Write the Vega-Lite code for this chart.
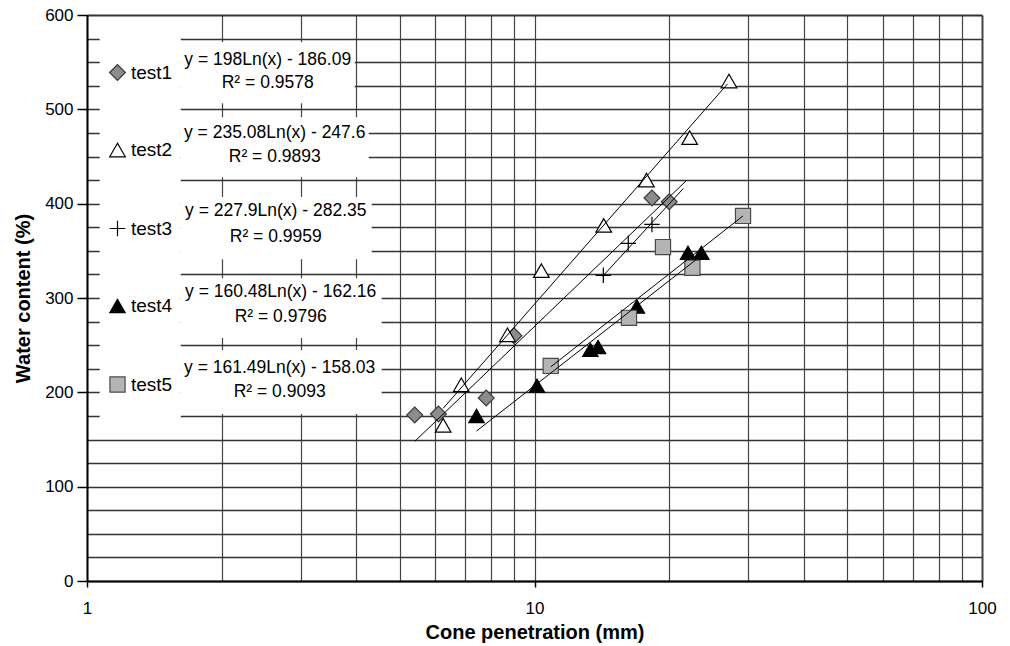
{
  "$schema": "https://vega.github.io/schema/vega-lite/v6.json",
  "width": 895,
  "height": 566,
  "autosize": {"type": "none"},
  "padding": {"left": 87, "top": 15, "right": 28, "bottom": 65},
  "background": "white",
  "config": {
    "view": {"stroke": null},
    "font": "Liberation Sans"
  },
  "datasets": {
    "boxes": [
      {"x": 1.0675, "x2": 1.62, "y": 165, "y2": 590},
      {"x": 1.62, "x2": 3.965, "y": 506.5, "y2": 571},
      {"x": 1.62, "x2": 4.262, "y": 428, "y2": 491.6},
      {"x": 1.62, "x2": 4.327, "y": 341, "y2": 407},
      {"x": 1.62, "x2": 4.555, "y": 257.5, "y2": 321},
      {"x": 1.62, "x2": 4.555, "y": 177, "y2": 245}
    ],
    "limit": [{"x": 20}],
    "points": [
      {"test": "test1", "x": 5.4, "y": 176},
      {"test": "test1", "x": 6.1, "y": 177},
      {"test": "test1", "x": 7.8, "y": 194},
      {"test": "test1", "x": 9.0, "y": 260},
      {"test": "test1", "x": 18.3, "y": 406},
      {"test": "test1", "x": 20.0, "y": 402},
      {"test": "test2", "x": 6.25, "y": 165},
      {"test": "test2", "x": 6.86, "y": 208},
      {"test": "test2", "x": 8.7, "y": 261},
      {"test": "test2", "x": 10.36, "y": 329},
      {"test": "test2", "x": 14.28, "y": 377},
      {"test": "test2", "x": 17.79, "y": 425},
      {"test": "test2", "x": 22.22, "y": 470},
      {"test": "test2", "x": 27.2, "y": 530},
      {"test": "test3", "x": 14.25, "y": 324},
      {"test": "test3", "x": 16.2, "y": 358},
      {"test": "test3", "x": 18.3, "y": 378},
      {"test": "test4", "x": 7.42, "y": 175},
      {"test": "test4", "x": 10.13, "y": 207},
      {"test": "test4", "x": 13.33, "y": 245},
      {"test": "test4", "x": 13.87, "y": 248},
      {"test": "test4", "x": 16.94, "y": 291},
      {"test": "test4", "x": 22.03, "y": 348},
      {"test": "test4", "x": 23.6, "y": 348},
      {"test": "test5", "x": 10.87, "y": 228},
      {"test": "test5", "x": 16.26, "y": 279},
      {"test": "test5", "x": 19.37, "y": 354},
      {"test": "test5", "x": 22.54, "y": 332},
      {"test": "test5", "x": 29.24, "y": 387}
    ],
    "trends": [
      {"test": "test1", "x": 5.4, "y": 148},
      {"test": "test1", "x": 21.8, "y": 424},
      {"test": "test2", "x": 6.25, "y": 183},
      {"test": "test2", "x": 27.0, "y": 527},
      {"test": "test3", "x": 14.2, "y": 323},
      {"test": "test3", "x": 21.5, "y": 416},
      {"test": "test4", "x": 7.42, "y": 159},
      {"test": "test4", "x": 23.6, "y": 345},
      {"test": "test5", "x": 10.87, "y": 227},
      {"test": "test5", "x": 29.24, "y": 387}
    ],
    "labels": [
      {"label": "y = 198Ln(x) - 186.09", "x": 2.534, "y": 552.6},
      {"label": "R² = 0.9578", "x": 2.534, "y": 527.7},
      {"label": "y = 235.08Ln(x) - 247.6", "x": 2.627, "y": 475.2},
      {"label": "R² = 0.9893", "x": 2.627, "y": 449.3},
      {"label": "y = 227.9Ln(x) - 282.35", "x": 2.641, "y": 392.0},
      {"label": "R² = 0.9959", "x": 2.641, "y": 365.0},
      {"label": "y = 160.48Ln(x) - 162.16", "x": 2.709, "y": 306.7},
      {"label": "R² = 0.9796", "x": 2.709, "y": 280.3},
      {"label": "y = 161.49Ln(x) - 158.03", "x": 2.695, "y": 225.7},
      {"label": "R² = 0.9093", "x": 2.695, "y": 200.8}
    ]
  },
  "encoding": {
    "x": {
      "field": "x",
      "type": "quantitative",
      "scale": {"type": "log", "domain": [1, 100], "nice": false},
      "axis": {
        "title": "Cone penetration (mm)",
        "titleFont": "Liberation Sans",
        "titleFontSize": 20,
        "titleFontWeight": "bold",
        "titleColor": "black",
        "titlePadding": 6,
        "values": [1, 2, 3, 4, 5, 6, 7, 8, 9, 10, 20, 30, 40, 50, 60, 70, 80, 90, 100],
        "labelExpr": "indexof([1, 10, 100], datum.value) >= 0 ? datum.label : ''",
        "labelOverlap": false,
        "labelBound": false,
        "labelFlush": false,
        "labelFont": "Liberation Sans",
        "labelFontSize": 17,
        "labelColor": "black",
        "labelPadding": 13,
        "tickSize": 6,
        "tickColor": "black",
        "tickWidth": 1.5,
        "tickOpacity": {"condition": {"test": "indexof([1, 10, 100], datum.value) >= 0", "value": 1}, "value": 0},
        "grid": true,
        "gridColor": "#444444",
        "gridOpacity": 1,
        "gridWidth": {"condition": {"test": "datum.value == 100", "value": 2}, "value": 1.2},
        "domainColor": "black",
        "domainWidth": 2
      }
    },
    "y": {
      "field": "y",
      "type": "quantitative",
      "scale": {"domain": [0, 600], "nice": false, "zero": false},
      "axis": {
        "title": "Water content (%)",
        "titleFont": "Liberation Sans",
        "titleFontSize": 20,
        "titleFontWeight": "bold",
        "titleColor": "black",
        "titlePadding": 11,
        "values": [0, 25, 50, 75, 100, 125, 150, 175, 200, 225, 250, 275, 300, 325, 350, 375, 400, 425, 450, 475, 500, 525, 550, 575, 600],
        "labelExpr": "datum.value % 100 == 0 ? datum.label : ''",
        "labelOverlap": false,
        "labelBound": false,
        "labelFlush": false,
        "labelFont": "Liberation Sans",
        "labelFontSize": 17,
        "labelColor": "black",
        "labelPadding": 4,
        "tickSize": 10,
        "tickColor": "black",
        "tickWidth": 1.5,
        "tickOpacity": {"condition": {"test": "datum.value % 100 == 0", "value": 1}, "value": 0},
        "grid": true,
        "gridColor": "#333333",
        "gridOpacity": 1,
        "gridWidth": {"condition": {"test": "datum.value == 600", "value": 2}, "value": 1.3},
        "domainColor": "black",
        "domainWidth": 2
      }
    }
  },
  "layer": [
    {
      "data": {"name": "boxes"},
      "mark": {"type": "rect", "fill": "white", "strokeWidth": 0},
      "encoding": {
        "x2": {"field": "x2"},
        "y2": {"field": "y2"}
      }
    },
    {
      "data": {"name": "limit"},
      "mark": {"type": "rule", "color": "black", "strokeWidth": 3},
      "encoding": {
        "y": {"datum": 0},
        "y2": {"datum": 600}
      }
    },
    {
      "data": {"name": "points"},
      "mark": {"type": "point", "filled": true, "opacity": 1, "strokeWidth": 1.2},
      "encoding": {
        "shape": {
          "field": "test",
          "type": "nominal",
          "scale": {"domain": ["test1", "test2", "test3", "test4", "test5"], "range": ["diamond", "triangle-up", "M-1,0L1,0M0,-1L0,1", "triangle-up", "square"]},
          "legend": {
            "title": null,
            "orient": "none",
            "legendX": 21,
            "legendY": 48,
            "padding": 0,
            "labelFont": "Liberation Sans",
            "labelFontSize": 19,
            "labelColor": "black",
            "labelOffset": 4,
            "rowPadding": 57.5,
            "symbolStrokeWidth": 1.2,
            "symbolOpacity": 1
          }
        },
        "fill": {
          "field": "test",
          "type": "nominal",
          "scale": {"domain": ["test1", "test2", "test3", "test4", "test5"], "range": ["#8c8c8c", "white", "transparent", "black", "#b4b4b4"]}
        },
        "stroke": {
          "field": "test",
          "type": "nominal",
          "scale": {"domain": ["test1", "test2", "test3", "test4", "test5"], "range": ["#3a3a3a", "black", "black", "black", "#4a4a4a"]}
        },
        "size": {
          "field": "test",
          "type": "nominal",
          "scale": {"domain": ["test1", "test2", "test3", "test4", "test5"], "range": [250, 230, 250, 115, 170]}
        }
      }
    },
    {
      "data": {"name": "trends"},
      "mark": {"type": "line", "color": "black", "strokeWidth": 1},
      "encoding": {
        "detail": {"field": "test", "type": "nominal"}
      }
    },
    {
      "data": {"name": "labels"},
      "mark": {"type": "text", "font": "Liberation Sans", "fontSize": 17.5, "align": "center", "baseline": "middle", "color": "black"},
      "encoding": {
        "text": {"field": "label", "type": "nominal"}
      }
    }
  ]
}
